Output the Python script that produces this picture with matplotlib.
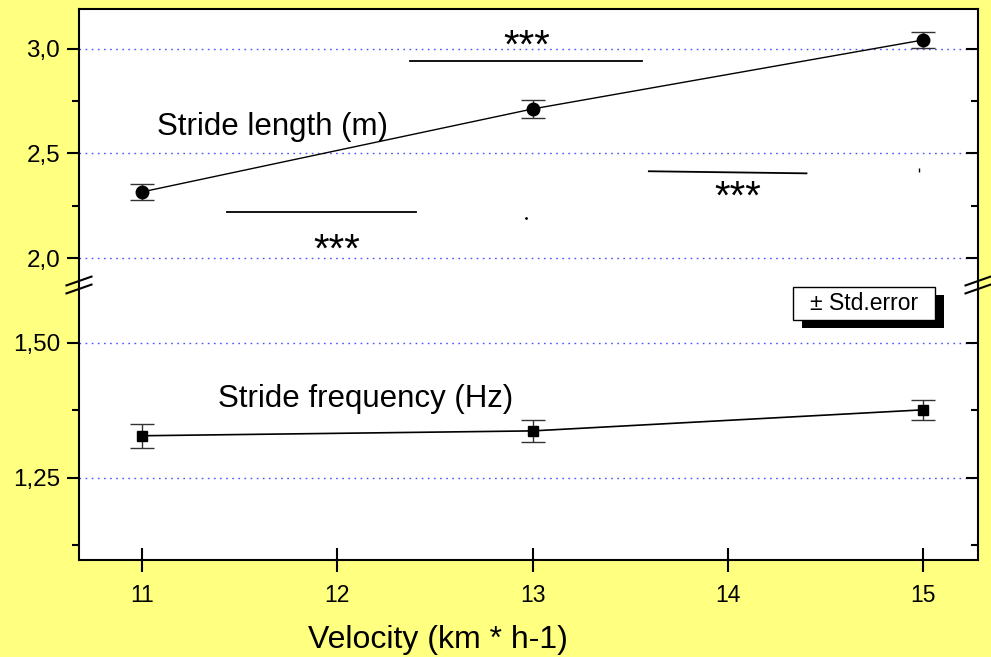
import matplotlib
matplotlib.use("Agg")
import matplotlib.pyplot as plt
from matplotlib.patches import Rectangle
from matplotlib.lines import Line2D

plt.rcParams['font.family'] = ['Liberation Sans', 'DejaVu Sans']

# datos
velocidad = [11, 13, 15]
longitud = [2.316, 2.713, 3.043]
longitud_err = [0.038, 0.043, 0.038]
frecuencia = [1.328, 1.337, 1.376]
frecuencia_err = [0.022, 0.020, 0.018]

xticks = [11, 12, 13, 14, 15]
yticks_arriba = [2.0, 2.5, 3.0]
ylabels_arriba = ['2,0', '2,5', '3,0']
yticks_abajo = [1.25, 1.50]
ylabels_abajo = ['1,25', '1,50']

# barras de significancia (x inicio, x fin, y inicio, y fin) y estrellas (x, y)
sig_lineas = [(12.374, 13.559, 2.943, 2.943),
              (11.434, 12.405, 2.220, 2.220),
              (13.595, 14.402, 2.415, 2.405)]
sig_estrellas = [(12.97, 3.01), (12.0, 2.035), (14.05, 2.29)]

amarillo = '#ffff80'
azul = '#4f4fff'

fig = plt.figure(figsize=(9.91, 6.57), dpi=100, facecolor=amarillo)
ax1 = fig.add_axes([0.0797, 0.5662, 0.9072, 0.4201])
ax2 = fig.add_axes([0.0797, 0.1476, 0.9072, 0.4186], sharex=ax1)

ax1.set_xlim(10.678, 15.28)
ax1.set_ylim(1.871, 3.191)
ax2.set_ylim(1.098, 1.607)

for ax in (ax1, ax2):
    ax.set_facecolor('white')
    for s in ax.spines.values():
        s.set_linewidth(1.5)
ax1.spines['bottom'].set_visible(False)
ax2.spines['top'].set_visible(False)

# ejes y
ax1.set_yticks(yticks_arriba)
ax1.set_yticklabels(ylabels_arriba)
ax1.set_yticks([2.25, 2.75], minor=True)
ax2.set_yticks(yticks_abajo)
ax2.set_yticklabels(ylabels_abajo)
ax2.set_yticks([1.125, 1.375], minor=True)
for ax in (ax1, ax2):
    ax.tick_params(axis='y', which='major', direction='out', length=8.5, width=1.5,
                   labelsize=17.5, pad=5, right=True)
    ax.tick_params(axis='y', which='minor', direction='out', length=5, width=1.5, right=True)
    ax.grid(axis='y', which='major', color=azul, linestyle=(0, (1.2, 3.2)), linewidth=1)
    ax.set_axisbelow(True)

# eje x
ax1.tick_params(axis='x', which='both', bottom=False, labelbottom=False)
ax2.set_xticks(xticks)
ax2.set_xticklabels([str(v) for v in xticks])
ax2.tick_params(axis='x', direction='inout', length=17, width=1.5, labelsize=16.5, pad=9)
ax2.set_xlabel('Velocity (km * h-1)', fontsize=23)
ax2.xaxis.set_label_coords(0.399, -0.238)

# las marcas del eje derecho van hacia dentro
for ax in (ax1, ax2):
    for t in ax.yaxis.get_major_ticks() + ax.yaxis.get_minor_ticks():
        t.tick2line.set_marker(matplotlib.lines.TICKLEFT)

# series
ax1.errorbar(velocidad, longitud, yerr=longitud_err, fmt='o-', color='black',
             markersize=9, linewidth=1, elinewidth=1, capsize=8.5, capthick=1,
             ecolor='#333333')
ax2.errorbar(velocidad, frecuencia, yerr=frecuencia_err, fmt='s-', color='black',
             markersize=7.5, linewidth=1.2, elinewidth=1, capsize=8.5, capthick=1,
             ecolor='#333333')

ax1.text(11.077, 2.627, 'Stride length (m)', fontsize=22.5, va='center', ha='left')
ax2.text(11.388, 1.396, 'Stride frequency (Hz)', fontsize=22.5, va='center', ha='left')

for (x0, x1, y0, y1) in sig_lineas:
    ax1.plot([x0, x1], [y0, y1], color='black', linewidth=1.3)
for (x, y) in sig_estrellas:
    ax1.text(x, y, '***', fontsize=29, ha='center', va='center')
ax1.plot([12.967], [2.19], marker='.', markersize=2, color='black')
ax1.plot([14.98], [2.42], marker='|', markersize=3, color='black')

# cortes del eje
for xa in (0.0, 1.0):
    for dy in (-0.0145, 0.0145):
        ax2.add_line(Line2D([xa - 0.0139, xa + 0.0139], [1.0 + dy - 0.016, 1.0 + dy + 0.016],
                            transform=ax2.transAxes, color='black', linewidth=1.5,
                            clip_on=False, zorder=10))

# cuadro de error estandar con sombra
ax2.add_patch(Rectangle((0.804, 0.845), 0.158, 0.12, transform=ax2.transAxes,
                        facecolor='black', edgecolor='none', zorder=5))
ax2.add_patch(Rectangle((0.794, 0.873), 0.158, 0.12, transform=ax2.transAxes,
                        facecolor='white', edgecolor='black', linewidth=1, zorder=6))
ax2.text(0.873, 0.933, '± Std.error', transform=ax2.transAxes, fontsize=16.5,
         ha='center', va='center', zorder=7)

plt.savefig('out.png', dpi=100, facecolor=amarillo)
